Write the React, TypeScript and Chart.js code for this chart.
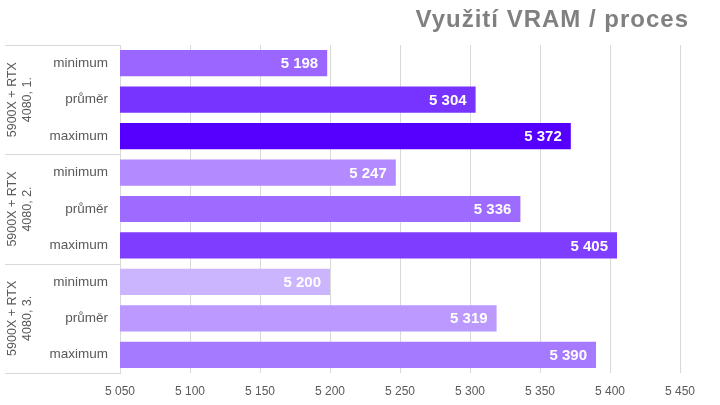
import React, { useEffect, useRef } from "react";
import { Chart, registerables } from "chart.js";

Chart.register(...registerables);

const groups = ["5900X + RTX|4080, 1.", "5900X + RTX|4080, 2.", "5900X + RTX|4080, 3."];
const subLabels = ["minimum", "průměr", "maximum"];
const values = [5198, 5304, 5372, 5247, 5336, 5405, 5200, 5319, 5390];
const barColors = ["#9b66ff", "#7733ff", "#5500ff", "#b38aff", "#9d6bff", "#7f3dff", "#ccb5ff", "#bb99ff", "#a67aff"];
const xMin = 5050;
const xMax = 5450;
const xStep = 50;
const title = "Využití VRAM / proces";

const fmt = (v: number) => String(Math.round(v)).replace(/\B(?=(\d{3})+(?!\d))/g, " ");
const FONT = "'Liberation Sans', Arial, sans-serif";

export default function App() {
  const ref = useRef<HTMLCanvasElement>(null);
  useEffect(() => {
    const labels: string[] = [];
    groups.forEach(() => subLabels.forEach((s) => labels.push(s)));
    const overlay = {
      id: "overlay",
      afterDatasetsDraw(chart: any) {
        const ctx = chart.ctx;
        const y = chart.scales.y;
        const x = chart.scales.x;
        const ca = chart.chartArea;
        ctx.save();
        // data labels
        ctx.font = `bold 15px ${FONT}`;
        ctx.fillStyle = "#ffffff";
        ctx.textAlign = "right";
        ctx.textBaseline = "middle";
        values.forEach((v, i) => {
          ctx.fillText(fmt(v), x.getPixelForValue(v) - 9, y.getPixelForValue(i) + 1);
        });
        // separators
        ctx.strokeStyle = "#d9d9d9";
        ctx.lineWidth = 1;
        const bounds: number[] = [ca.top];
        for (let g = 1; g < groups.length; g++) {
          const idx = g * subLabels.length;
          bounds.push((y.getPixelForValue(idx - 1) + y.getPixelForValue(idx)) / 2);
        }
        bounds.push(ca.bottom);
        bounds.forEach((b) => {
          const yy = Math.round(b) + 0.5;
          ctx.beginPath();
          ctx.moveTo(5, yy);
          ctx.lineTo(ca.left, yy);
          ctx.stroke();
        });
        // group labels
        ctx.fillStyle = "#595959";
        ctx.font = `12.5px ${FONT}`;
        ctx.textAlign = "center";
        ctx.textBaseline = "middle";
        groups.forEach((g, gi) => {
          const cy = (bounds[gi] + bounds[gi + 1]) / 2;
          const lines = g.split("|");
          ctx.save();
          ctx.translate(0, cy);
          ctx.rotate(-Math.PI / 2);
          lines.forEach((ln, li) => {
            ctx.fillText(ln, 0, 13 + li * 15);
          });
          ctx.restore();
        });
        // title
        ctx.fillStyle = "#808080";
        ctx.font = `bold 24px ${FONT}`;
        (ctx as any).letterSpacing = "1px";
        ctx.textAlign = "right";
        ctx.textBaseline = "alphabetic";
        ctx.fillText(title, 689, 27);
        ctx.restore();
      },
    };
    const chart = new Chart(ref.current!, {
      type: "bar",
      data: {
        labels,
        datasets: [
          {
            data: values,
            backgroundColor: barColors,
            barPercentage: 0.72,
            categoryPercentage: 1,
          },
        ],
      },
      options: {
        indexAxis: "y",
        responsive: false,
        animation: false,
        layout: { padding: { top: 45, left: 5, right: 40, bottom: 0 } },
        plugins: { legend: { display: false }, tooltip: { enabled: false }, title: { display: false } },
        scales: {
          x: {
            min: xMin,
            max: xMax,
            ticks: {
              stepSize: xStep,
              callback: (v: any) => fmt(Number(v)),
              color: "#595959",
              font: { family: FONT, size: 12 },
              padding: 11,
              maxRotation: 0,
            },
            grid: { color: "#d9d9d9", drawTicks: false },
            border: { display: false },
            afterFit: (s: any) => {
              s.height = 32;
            },
          },
          y: {
            ticks: {
              color: "#595959",
              font: { family: FONT, size: 13.5 },
              padding: 12,
            },
            grid: { display: false, drawTicks: false },
            border: { display: true, color: "#d9d9d9" },
            afterFit: (s: any) => {
              s.width = 115;
            },
          },
        },
      },
      plugins: [overlay],
    } as any);
    return () => chart.destroy();
  }, []);
  return (
    <div style={{ position: "absolute", left: 0, top: 0, width: 720, height: 405, background: "#fff" }}>
      <canvas ref={ref} width={720} height={405} />
    </div>
  );
}
